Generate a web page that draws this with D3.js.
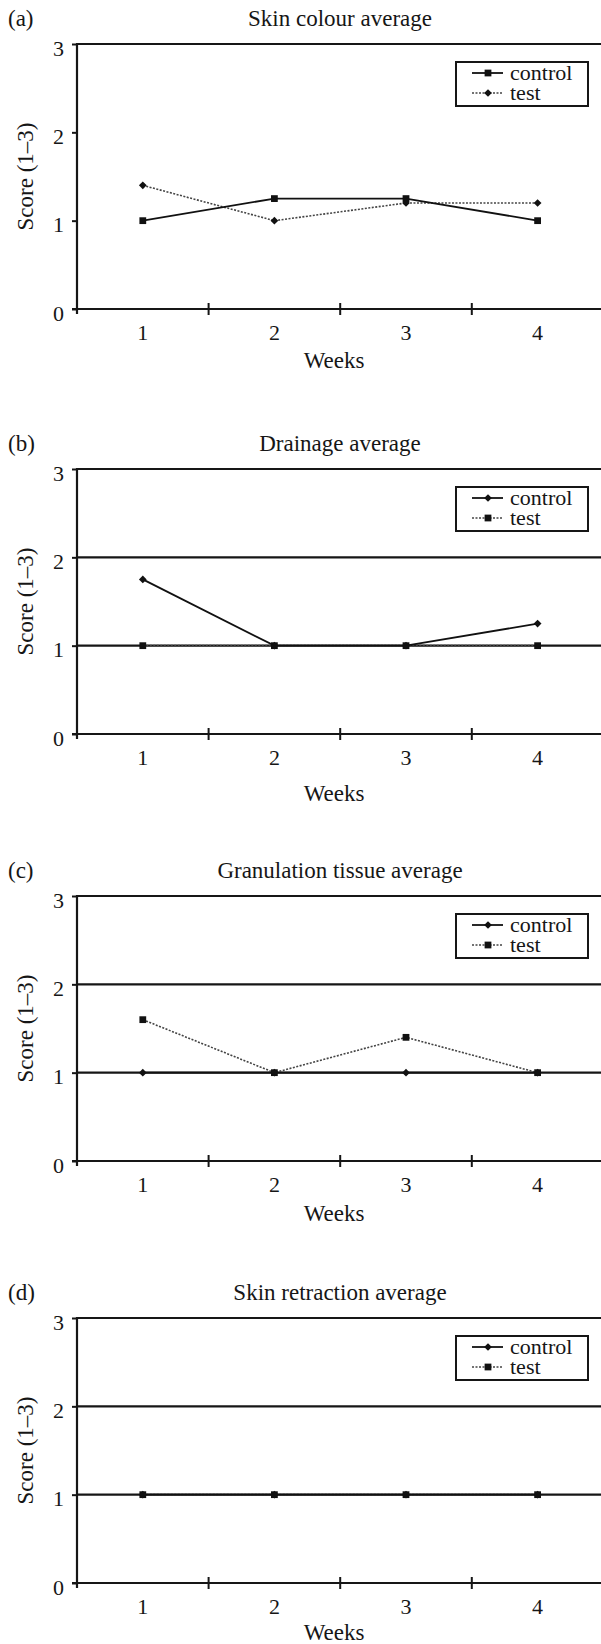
<!DOCTYPE html>
<html>
<head>
<meta charset="utf-8">
<script src="https://cdn.jsdelivr.net/npm/d3@7"></script>
<style>
  body { margin: 0; background: #fff; }
  svg text { font-family: "Liberation Serif", "Times New Roman", serif; fill: #161616; }
</style>
</head>
<body>
<svg id="chart" width="601" height="1644"></svg>
<script>
// Data
const weeks = [1, 2, 3, 4];
const scoreTicks = [0, 1, 2, 3];
const panelLabels = ["(a)", "(b)", "(c)", "(d)"];
const panelTitles = ["Skin colour average", "Drainage average", "Granulation tissue average", "Skin retraction average"];
const seriesNames = ["control", "test"];

const skinColourControl = [1.0, 1.25, 1.25, 1.0];
const skinColourTest = [1.4, 1.0, 1.2, 1.2];
const drainageControl = [1.75, 1.0, 1.0, 1.25];
const drainageTest = [1.0, 1.0, 1.0, 1.0];
const granulationControl = [1.0, 1.0, 1.0, 1.0];
const granulationTest = [1.6, 1.0, 1.4, 1.0];
const retractionControl = [1.0, 1.0, 1.0, 1.0];
const retractionTest = [1.0, 1.0, 1.0, 1.0];

// layout of each panel (y of the top line, gap to the "Weeks" label, gridlines, markers)
const panels = [
    { top: 44, weeksGap: 59, grid: [3], control: skinColourControl, test: skinColourTest, controlSym: "square", testSym: "diamond" },
    { top: 469, weeksGap: 67, grid: [1, 2, 3], control: drainageControl, test: drainageTest, controlSym: "diamond", testSym: "square" },
    { top: 896, weeksGap: 60, grid: [1, 2, 3], control: granulationControl, test: granulationTest, controlSym: "diamond", testSym: "square" },
    { top: 1318, weeksGap: 57, grid: [1, 2, 3], control: retractionControl, test: retractionTest, controlSym: "diamond", testSym: "square" }
];

const svg = d3.select("#chart");
const plotLeft = 77, plotRight = 601, plotHeight = 265;
const ink = "#161616";

const x = d3.scaleBand().domain(weeks).range([plotLeft, 603.4]);

function symbolPath(kind) {
    if (kind === "square") return d3.symbol().type(d3.symbolSquare).size(46)();
    return d3.symbol().type(d3.symbolSquare).size(30)();
}
function symbolRotate(kind) {
    return kind === "diamond" ? " rotate(45)" : "";
}

panels.forEach((p, i) => {
    const y = d3.scaleLinear().domain([0, 3]).range([p.top + plotHeight, p.top]);
    const g = svg.append("g");

    // panel letter and title
    g.append("text")
        .attr("x", 8).attr("y", p.top - 18)
        .style("font-size", "23px")
        .text(panelLabels[i]);
    g.append("text")
        .attr("x", 340).attr("y", p.top - 18)
        .attr("text-anchor", "middle")
        .style("font-size", "23px")
        .text(panelTitles[i]);

    // horizontal gridlines
    g.selectAll(".grid")
        .data(p.grid)
        .enter().append("line")
        .attr("x1", plotLeft).attr("x2", plotRight)
        .attr("y1", d => y(d)).attr("y2", d => y(d))
        .attr("stroke", ink).attr("stroke-width", 2.2);

    // y axis
    const yAxis = g.append("g")
        .attr("transform", `translate(${plotLeft},0)`)
        .call(d3.axisLeft(y).tickValues(scoreTicks).tickFormat(d3.format("d")).tickSize(5).tickPadding(8));
    yAxis.select(".domain").remove();
    yAxis.selectAll("line").attr("stroke", ink).attr("stroke-width", 2);
    yAxis.selectAll("text").attr("dy", "0.5em").style("font-size", "22px").attr("fill", ink);
    g.append("line")
        .attr("x1", plotLeft).attr("x2", plotLeft)
        .attr("y1", y(3) - 1).attr("y2", y(0) + 5)
        .attr("stroke", ink).attr("stroke-width", 2.2);

    // x axis: labels at band centres, ticks at band edges
    const xAxis = g.append("g")
        .attr("transform", `translate(0,${y(0)})`)
        .call(d3.axisBottom(x).tickSize(0).tickPadding(15));
    xAxis.select(".domain").remove();
    xAxis.selectAll("text").style("font-size", "22px").attr("fill", ink);
    g.append("line")
        .attr("x1", plotLeft - 5).attr("x2", plotRight)
        .attr("y1", y(0)).attr("y2", y(0))
        .attr("stroke", ink).attr("stroke-width", 2.2);
    g.selectAll(".xtick")
        .data(weeks.slice(1))
        .enter().append("line")
        .attr("x1", d => x(d)).attr("x2", d => x(d))
        .attr("y1", y(0) - 6).attr("y2", y(0) + 6)
        .attr("stroke", ink).attr("stroke-width", 2);

    // axis titles
    g.append("text")
        .attr("x", 334).attr("y", y(0) + p.weeksGap)
        .attr("text-anchor", "middle")
        .style("font-size", "23px")
        .text("Weeks");
    g.append("text")
        .attr("transform", `translate(33,${(y(0) + y(3)) / 2}) rotate(-90)`)
        .attr("text-anchor", "middle")
        .style("font-size", "23px")
        .text("Score (1\u20133)");

    // series
    const line = d3.line()
        .x((d, j) => x(weeks[j]) + x.bandwidth() / 2)
        .y(d => y(d));

    const series = [
        { name: seriesNames[0], values: p.control, sym: p.controlSym, color: "#111", dash: null, width: 1.8 },
        { name: seriesNames[1], values: p.test, sym: p.testSym, color: "#444", dash: "2,1.5", width: 1.6 }
    ];

    // draw test first so control sits on top
    series.slice().reverse().forEach(s => {
        g.append("path")
            .datum(s.values)
            .attr("d", line)
            .attr("fill", "none")
            .attr("stroke", s.color)
            .attr("stroke-width", s.width)
            .attr("stroke-dasharray", s.dash);
        g.selectAll(null)
            .data(s.values)
            .enter().append("path")
            .attr("d", symbolPath(s.sym))
            .attr("transform", (d, j) => `translate(${x(weeks[j]) + x.bandwidth() / 2},${y(d)})` + symbolRotate(s.sym))
            .attr("fill", "#111");
    });

    // legend
    const lx = 456, ly = p.top + 18;
    g.append("rect")
        .attr("x", lx).attr("y", ly)
        .attr("width", 132).attr("height", 44)
        .attr("fill", "#fff")
        .attr("stroke", ink).attr("stroke-width", 2);
    series.forEach((s, k) => {
        const ry = ly + 11 + k * 20;
        g.append("line")
            .attr("x1", lx + 16).attr("x2", lx + 47)
            .attr("y1", ry).attr("y2", ry)
            .attr("stroke", s.color).attr("stroke-width", s.width)
            .attr("stroke-dasharray", s.dash);
        g.append("path")
            .attr("d", symbolPath(s.sym))
            .attr("transform", `translate(${lx + 32},${ry})` + symbolRotate(s.sym))
            .attr("fill", "#111");
        g.append("text")
            .attr("x", lx + 54).attr("y", ry + 7)
            .style("font-size", "22px")
            .text(s.name);
    });
});
</script>
</body>
</html>
